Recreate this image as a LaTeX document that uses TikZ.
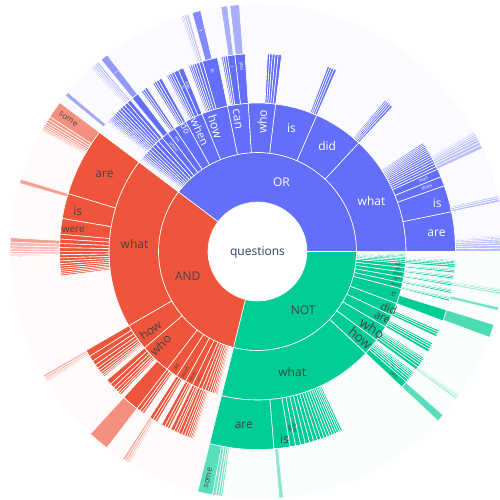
\documentclass[tikz,border=0pt]{standalone}
\usepackage{fontspec}
\setmainfont{Open Sans}
\definecolor{orblue}{HTML}{636EFA}
\definecolor{andred}{HTML}{EF553B}
\definecolor{notgreen}{HTML}{00CC96}
\definecolor{ink}{HTML}{444444}
\definecolor{rootink}{HTML}{2A3F5F}

\tikzset{
  slice/.style={draw=white, line width=0.6pt, line join=round},
  lbl/.style={inner sep=0pt, text=ink, font=\fontsize{12}{12}\selectfont},
  wlbl/.style={lbl, text=white},
  lsize/.style={font=\fontsize{#1}{#1}\selectfont},
}

% one sector: start, end, inner radius, outer radius, fill options
\newcommand{\sunsector}[5]{%
  \path[slice, #5] (#1:#3pt) arc[start angle=#1, end angle=#2, radius=#3pt]
    -- (#2:#4pt) arc[start angle=#2, end angle=#1, radius=#4pt] -- cycle;}

% run of shrinking sectors: start, inner r, outer r, fill, count, first width, ratio
\newcommand{\sunfan}[7]{%
  \foreach \k in {1,...,#5}{%
    \pgfmathsetmacro\fs{#1+#6*(1-(#7)^(\k-1))/(1-#7)}%
    \pgfmathsetmacro\fe{#1+#6*(1-(#7)^\k)/(1-#7)}%
    \sunsector{\fs}{\fe}{#2}{#3}{#4}}}

\begin{document}
\begin{tikzpicture}[x=1pt, y=1pt]
  \useasboundingbox (-257.5,-248.5) rectangle (242.5,251.5);
  \clip (-257.5,-248.5) rectangle (242.5,251.5);
  \fill[white] (-257.5,-248.5) rectangle (242.5,251.5);

  % faint outer rings
  \sunsector{0}{143}{148.5}{247.5}{fill=orblue!2.5, draw=none}
  \sunsector{143}{256}{148.5}{247.5}{fill=andred!2.5, draw=none}
  \sunsector{256}{360}{148.5}{247.5}{fill=notgreen!2.5, draw=none}

  % inner ring
  \sunsector{0}{143}{49.5}{99}{fill=orblue}
  \sunsector{143}{256}{49.5}{99}{fill=andred}
  \sunsector{256}{360}{49.5}{99}{fill=notgreen}

  % second ring
  \foreach \a/\b in {0/47, 47/66.5, 66.5/83, 83/93.6, 93.6/101.7, 101.7/112,
                     112/119, 119/124, 124/127.2, 127.2/130}
    {\sunsector{\a}{\b}{99}{148.5}{fill=orblue}}
  \sunfan{130}{99}{148.5}{fill=orblue}{14}{1.9}{0.87}
  \foreach \a/\b in {143/210, 210/220.5, 220.5/232.5, 232.5/237, 237/241,
                     241/244, 244/246.5}
    {\sunsector{\a}{\b}{99}{148.5}{fill=andred}}
  \sunfan{246.5}{99}{148.5}{fill=andred}{11}{1.5}{0.86}
  \foreach \a/\b in {256/316.8, 316.8/323.3, 323.3/329.5, 329.5/334.5,
                     334.5/339.5, 339.5/345.5, 345.5/347.8, 347.8/350,
                     350/352, 352/353.8, 353.8/355.4}
    {\sunsector{\a}{\b}{99}{148.5}{fill=notgreen}}
  \sunfan{355.4}{99}{148.5}{fill=notgreen}{9}{0.8}{0.88}

  % third ring
  \foreach \a/\b in {0/11.6, 11.6/19.4, 19.4/22.2, 22.2/24.6, 93.6/96.6,
                     96.6/98.8, 101.7/106.2, 112/113.6, 113.6/115, 127.2/129.3}
    {\sunsector{\a}{\b}{148.5}{198}{fill=orblue}}
  \sunfan{24.6}{148.5}{198}{fill=orblue}{14}{0.85}{0.95}
  \sunfan{47}{148.5}{198}{fill=orblue}{5}{0.7}{0.9}
  \sunfan{66.5}{148.5}{198}{fill=orblue}{4}{0.8}{0.9}
  \sunfan{83}{148.5}{198}{fill=orblue}{5}{1.0}{0.9}
  \sunfan{98.8}{148.5}{198}{fill=orblue}{3}{0.7}{0.8}
  \sunfan{106.2}{148.5}{198}{fill=orblue}{6}{1.0}{0.85}
  \sunfan{115}{148.5}{198}{fill=orblue}{4}{0.8}{0.8}
  \sunfan{119}{148.5}{198}{fill=orblue}{4}{1.0}{0.8}
  \sunfan{124}{148.5}{198}{fill=orblue}{3}{0.8}{0.8}
  \sunfan{130}{148.5}{198}{fill=orblue}{16}{1.2}{0.9}

  \foreach \a/\b in {143/163, 163/170.4, 170.4/175, 227.5/232.5}
    {\sunsector{\a}{\b}{148.5}{198}{fill=andred}}
  \sunfan{175}{148.5}{198}{fill=andred}{14}{1.4}{0.92}
  \sunfan{210}{148.5}{198}{fill=andred}{9}{2.0}{0.82}
  \sunfan{220.5}{148.5}{198}{fill=andred}{6}{1.6}{0.8}
  \foreach \s in {232.5, 237, 241, 244}
    {\sunfan{\s}{148.5}{198}{fill=andred}{3}{1.1}{0.75}}
  \sunfan{246.5}{148.5}{198}{fill=andred}{9}{1.0}{0.85}

  \foreach \a/\b in {256/274.8, 274.8/279.5, 279.5/281.1, 281.1/282.6,
                     316.8/318.8, 339.5/342.8}
    {\sunsector{\a}{\b}{148.5}{198}{fill=notgreen}}
  \sunfan{282.6}{148.5}{198}{fill=notgreen}{14}{1.4}{0.93}
  \sunfan{318.8}{148.5}{198}{fill=notgreen}{6}{0.8}{0.88}
  \sunfan{323.3}{148.5}{198}{fill=notgreen}{6}{1.0}{0.85}
  \sunfan{329.5}{148.5}{198}{fill=notgreen}{4}{0.9}{0.85}
  \sunfan{334.5}{148.5}{198}{fill=notgreen}{3}{0.8}{0.85}
  \foreach \s in {345.5, 347.8, 350, 352, 353.8}
    {\sunfan{\s}{148.5}{198}{fill=notgreen}{3}{0.5}{0.8}}
  \sunfan{355.4}{148.5}{198}{fill=notgreen}{6}{0.6}{0.85}

  % outer ring
  \sunfan{0}{198}{247.5}{fill=orblue!45}{8}{0.8}{0.85}
  \sunfan{11.6}{198}{247.5}{fill=orblue!45}{3}{0.6}{0.8}
  \sunfan{24.6}{198}{247.5}{fill=orblue!45}{8}{0.9}{0.85}
  \sunfan{106.2}{198}{247.5}{fill=orblue!40}{4}{0.6}{0.8}
  \sunfan{130}{198}{247.5}{fill=orblue!40}{5}{0.6}{0.85}
  \foreach \a/\b/\c in {94.2/96.4/55, 97/98.5/55, 103.3/105.3/80,
                        127.4/129.2/70, 140/141/60}
    {\sunsector{\a}{\b}{198}{247.5}{fill=orblue!\c}}

  \sunfan{147}{198}{247.5}{fill=andred!60}{7}{0.8}{0.85}
  \sunfan{177.8}{198}{247.5}{fill=andred!40}{8}{0.9}{0.8}
  \sunfan{210}{198}{247.5}{fill=andred!40}{4}{0.6}{0.8}
  \sunfan{237}{198}{247.5}{fill=andred!50}{4}{0.6}{0.8}
  \foreach \a/\b/\c in {143/147/65, 163/164/55, 176.8/177.8/55, 227.5/232.5/65}
    {\sunsector{\a}{\b}{198}{247.5}{fill=andred!\c}}

  \sunfan{259.5}{198}{247.5}{fill=notgreen!55}{4}{0.8}{0.8}
  \sunfan{323.3}{198}{247.5}{fill=notgreen!40}{4}{0.5}{0.8}
  \sunfan{350}{198}{247.5}{fill=notgreen!40}{5}{0.5}{0.8}
  \foreach \a/\b/\c in {256/259.5/65, 275/276/45, 316.8/318.6/65,
                        339.7/342.8/70, 346.2/347/55}
    {\sunsector{\a}{\b}{198}{247.5}{fill=notgreen!\c}}

  % labels
  \node[lbl, text=rootink] (root) at (0,-1) {questions};
  \node[wlbl] (or) at (24,69) {OR};
  \node[lbl] (and) at (-69.7,-25.2) {AND};
  \node[lbl] (not) at (45.7,-59.2) {NOT};

  \node[wlbl] (or-what) at (114,50) {what};
  \node[wlbl] (or-did) at (69.7,105.5) {did};
  \node[wlbl] (or-is) at (34,123.8) {is};
  \node[wlbl, rotate=88] (or-who) at (4.7,129.8) {who};
  \node[wlbl, rotate=-82] (or-can) at (-20.3,132.2) {can};
  \node[wlbl, rotate=-73] (or-how) at (-42,124.8) {how};
  \node[wlbl, rotate=-64.5, lsize=11] (or-when) at (-57.7,119.8) {when};
  \node[wlbl, rotate=-58.5, lsize=9] (or-do) at (-72,123.2) {do};
  \node[wlbl, rotate=-54.4, lsize=4] (or-are) at (125.6:138) {are};
  \node[wlbl, rotate=-51.4, lsize=4] (or-where) at (128.6:134) {where};

  \node[lbl] (and-what) at (-123,7.5) {what};
  \node[lbl, rotate=36] (and-how) at (-107,-78.5) {how};
  \node[lbl, rotate=45] (and-who) at (-97,-93.5) {who};
  \foreach \ang/\txt in {234.8/did, 239/when, 242.5/does, 245.3/is}
    {\node[lbl, rotate=\ang-180, lsize=4.5] (and-\txt) at (\ang:141) {\txt};}

  \node[lbl] (not-what) at (34.7,-120.2) {what};
  \node[lbl, rotate=-40, lsize=13] (not-how) at (103,-86.5) {how};
  \node[lbl, rotate=-33, lsize=13] (not-who) at (114.7,-76.8) {who};
  \node[lbl, rotate=-27, lsize=11] (not-are) at (124.7,-66.8) {are};
  \node[lbl, rotate=-22, lsize=11] (not-did) at (131.3,-56.8) {did};
  \node[lbl, rotate=74, lsize=7] (not-is) at (342.5:142) {is};
  \foreach \ang/\txt in {346.65/where, 348.9/can, 351/when, 352.9/do, 354.6/was}
    {\node[lbl, rotate=\ang, lsize=3.6] (not-\txt) at (\ang:142) {\txt};}

  \node[wlbl] (or-what-are) at (179,18.5) {are};
  \node[wlbl] (or-what-is) at (179.7,48.2) {is};
  \node[wlbl, rotate=20.8, lsize=5] (or-what-does) at (20.8:181) {does};
  \node[wlbl, rotate=23.4, lsize=5] (or-what-was) at (23.4:181) {was};
  \node[wlbl, rotate=-84.9, lsize=5] (or-can-you) at (95.1:186) {you};
  \node[wlbl, rotate=-82.3, lsize=5] (or-can-i) at (97.7:186) {I};
  \node[wlbl, rotate=-76, lsize=5] (or-how-to) at (104:186) {to};
  \node[wlbl, rotate=-67.2, lsize=4.5] (or-when-was) at (112.8:180) {was};
  \node[wlbl, rotate=-65.7, lsize=4.5] (or-when-is) at (114.3:180) {is};
  \node[wlbl, rotate=-75.7, lsize=6] (or-how-i) at (104.3:228) {I};
  \node[wlbl, rotate=-51.7, lsize=6] (or-where-i) at (128.3:228) {I};

  \node[lbl] (and-what-are) at (-153,77.5) {are};
  \node[lbl] (and-what-is) at (-179.7,40.8) {is};
  \node[lbl, lsize=10] (and-what-were) at (-184.3,21.5) {were};
  \node[lbl, rotate=-35, lsize=8] (and-are-some) at (145:231) {some};

  \node[lbl] (not-what-are) at (-13.7,-173.5) {are};
  \node[lbl] (not-what-is) at (27,-187.5) {is};
  \node[lbl, rotate=-79.7, lsize=4.5] (not-what-can) at (280.3:180) {can};
  \node[lbl, rotate=-78.1, lsize=4.5] (not-what-does) at (281.9:180) {does};
  \node[lbl, rotate=-42.2, lsize=5] (not-how-can) at (317.8:184) {can};
  \node[lbl, rotate=77.7, lsize=8] (not-are-some) at (257.7:232) {some};
\end{tikzpicture}
\end{document}
